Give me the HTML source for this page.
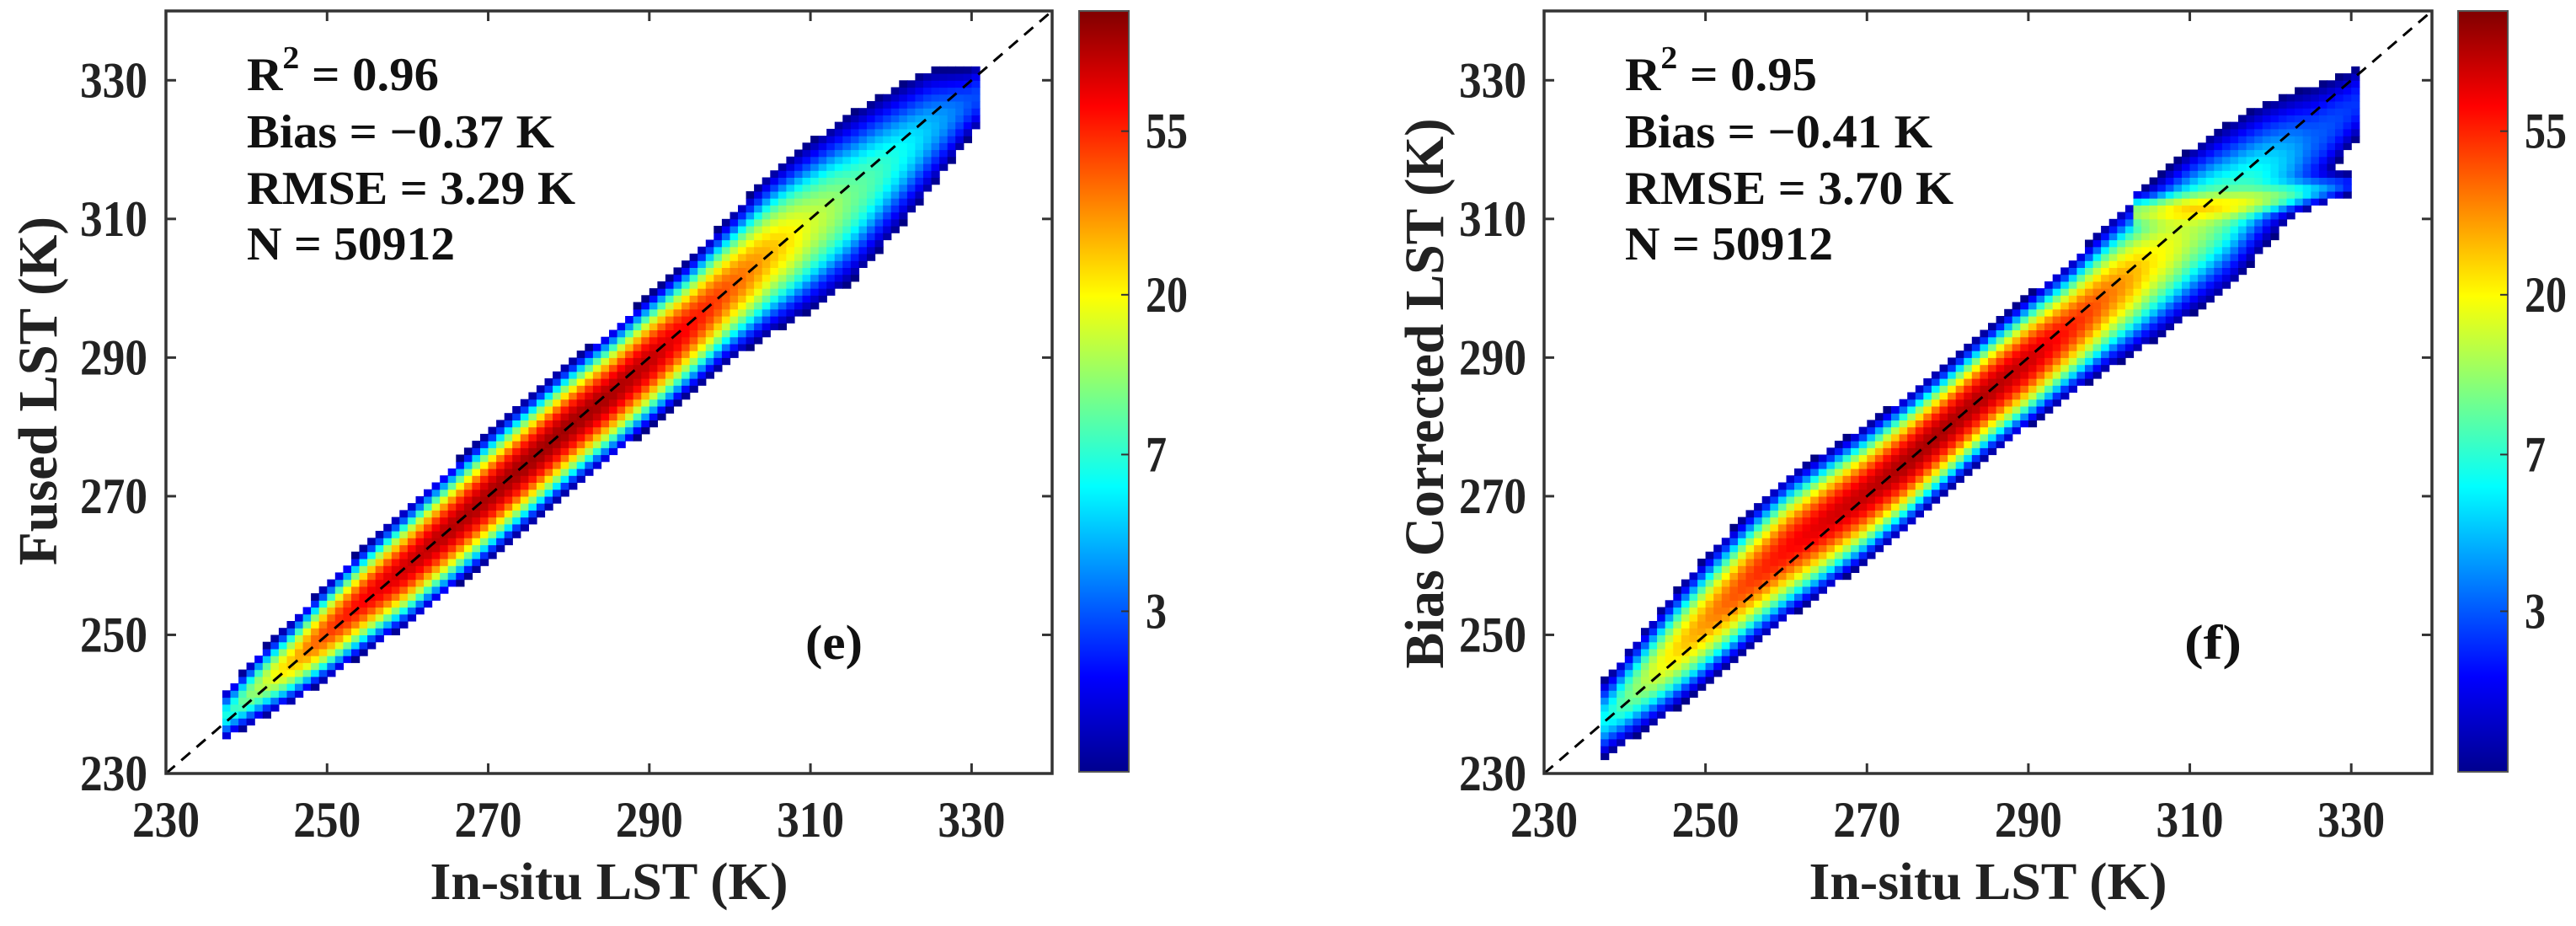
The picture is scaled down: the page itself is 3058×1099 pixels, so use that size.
<!DOCTYPE html>
<html><head><meta charset="utf-8">
<style>
html,body{margin:0;padding:0;background:#fff;}
svg{display:block;}
svg text{font-family:"Liberation Serif","DejaVu Serif",serif;font-weight:bold;}
</style></head>
<body>
<svg id="fig" width="3058" height="1099" viewBox="0 0 3058 1099">
<defs>
<linearGradient id="jet" x1="0" y1="1" x2="0" y2="0">
<stop offset="0" stop-color="#00008f"/>
<stop offset="0.125" stop-color="#0000ff"/>
<stop offset="0.375" stop-color="#00ffff"/>
<stop offset="0.625" stop-color="#ffff00"/>
<stop offset="0.875" stop-color="#ff0000"/>
<stop offset="1" stop-color="#800000"/>
</linearGradient>
</defs>
</svg>
<script>
// ---- data (counts per 1 K bin) ----
const binX = [238,242,246,250,255,260,265,270,275,280,285,290,295,300,305,310,315,320,325,330];
const offsetE = [1,1,0.5,0.5,0.5,0,0,0,0,0,-0.5,-0.5,-0.5,0,0,-1,-2,-2,-2,-3];
const spreadE = [1.5,1.8,2,2.2,2.4,2.6,2.7,2.8,2.8,2.8,2.8,2.9,3,3.3,3.8,4.2,4.5,4.2,3.8,2.5];
const peakE = [5,12,25,45,65,80,90,95,100,100,95,85,60,40,25,14,8,5,3,1.6];
const tailE = [1.5,2,2.3,2.5,2.5,2.5,2.5,2.5,2.5,2.5,2.5,2.5,2.5,2.5,2.5,2.3,2,1.8,1.5,1.2];
const offsetF = [0.5,1,1.5,2,2.5,2.5,1.5,0.5,0,0,0,-0.5,-1,-1,-1.5,-2,-3,-3,-4,-4];
const spreadF = [2.2,2.5,2.8,3,3.1,3.2,3.1,3,2.9,2.8,2.8,2.9,3,3.4,3.9,4.3,4.6,4.3,4,3];
const peakF = [4,10,20,30,45,60,75,85,95,95,90,80,55,35,20,12,7,4,2,1.5];
const tailF = [2,2.3,2.5,2.5,2.5,2.5,2.5,2.5,2.5,2.5,2.5,2.5,2.5,2.5,2.3,2,1.8,1.5,1.2,1];
const armX = [305,310,315,320,325,330];
const armY = [311,311.5,312,313,314,315];
const armPeak = [10,14,12,8,4,2];
const axisTicks = [230,250,270,290,310,330];
const cbTicks = [3,7,20,55];
const cbAnchorsCount = [1,3,7,20,55,120];
const cbAnchorsFrac = [0,0.211,0.417,0.627,0.842,1];
const statsE = ["= 0.96","Bias = \u22120.37 K","RMSE = 3.29 K","N = 50912"];
const statsF = ["= 0.95","Bias = \u22120.41 K","RMSE = 3.70 K","N = 50912"];

const NS = "http://www.w3.org/2000/svg";
const svg = document.getElementById('fig');
function mk(tag, attrs, parent){
  const e = document.createElementNS(NS, tag);
  for (const k in attrs) e.setAttribute(k, attrs[k]);
  (parent||svg).appendChild(e);
  return e;
}
function interp(xs, ys, x){
  if (x <= xs[0]) return ys[0];
  if (x >= xs[xs.length-1]) return ys[ys.length-1];
  for (let i=0;i<xs.length-1;i++){
    if (x>=xs[i] && x<=xs[i+1]){const t=(x-xs[i])/(xs[i+1]-xs[i]);return ys[i]+t*(ys[i+1]-ys[i]);}
  }
}
function countFrac(c){
  const l = cbAnchorsCount.map(Math.log);
  return Math.max(0, Math.min(1, interp(l, cbAnchorsFrac, Math.log(c))));
}
function jet(t){
  const cl=v=>Math.max(0,Math.min(1,v));
  const r=cl(1.5-Math.abs(4*t-3)), g=cl(1.5-Math.abs(4*t-2)), b=cl(1.5-Math.abs(4*t-1));
  return `rgb(${Math.round(r*255)},${Math.round(g*255)},${Math.round(b*255)})`;
}
const FONT = '"Liberation Serif","DejaVu Serif",serif';

function panel(cfg){
  const g = mk('g', {});
  
  
  const L=cfg.left, R=cfg.right, T=13, B=918;
  const sx = v => L + (v-230)/110*(R-L);
  const sy = v => B - (v-230)/110*(B-T);
  const txt = (attrs, parent) => { attrs['font-family']=FONT; attrs['font-weight']='bold'; return mk('text', attrs, parent); };
  // heatmap
  const hm = mk('g', {}, g);
  
  
  for (let x=237; x<331; x++){
    const xc = x+0.5;
    const off = interp(binX, cfg.off, xc), sd = interp(binX, cfg.sd, xc), pk = interp(binX, cfg.peak, xc), tl = interp(binX, cfg.tail, xc);
    for (let y=225; y<340; y++){
      const yc = y+0.5;
      const d = yc - (xc + off);
      let c = pk*Math.exp(-0.5*(d/sd)*(d/sd)) + tl*Math.exp(-0.5*(d/(sd*2))*(d/(sd*2)));
      if (cfg.arm && xc>=armX[0]-2 && xc<=armX[armX.length-1]){
        const ay = interp(armX, armY, xc), ap = interp(armX, armPeak, xc);
        const da = yc-ay; c += ap*Math.exp(-0.5*da*da/1.2);
      }
      if (c < 1) continue;
      const r = mk('rect', {x:sx(x).toFixed(1), y:sy(y+1).toFixed(1), width:(sx(x+1)-sx(x)+0.6).toFixed(1), height:(sy(y)-sy(y+1)+0.6).toFixed(1), fill:jet(countFrac(c))}, hm);
      
      
    }
  }
  const ln = mk('line', {x1:sx(230), y1:sy(230), x2:sx(340), y2:sy(340), stroke:'#000', 'stroke-width':3, 'stroke-dasharray':'14,10'}, g);
  
  
  const bx = mk('rect', {x:L, y:T, width:R-L, height:B-T, fill:'none', stroke:'#333', 'stroke-width':3.5}, g);
  
  
  axisTicks.forEach(v=>{
    mk('line',{x1:sx(v),y1:B,x2:sx(v),y2:B-12,stroke:'#333','stroke-width':3},g);
    mk('line',{x1:sx(v),y1:T,x2:sx(v),y2:T+12,stroke:'#333','stroke-width':3},g);
    mk('line',{x1:L,y1:sy(v),x2:L+12,y2:sy(v),stroke:'#333','stroke-width':3},g);
    mk('line',{x1:R,y1:sy(v),x2:R-12,y2:sy(v),stroke:'#333','stroke-width':3},g);
    const tx = txt({x:sx(v),y:993,'text-anchor':'middle','font-size':60,textLength:80,lengthAdjust:'spacingAndGlyphs',fill:'#222'},g);
    tx.textContent = v;
    
    
    const ty = txt({x:cfg.ytickRight-80,y:sy(v)+20,'font-size':60,textLength:80,lengthAdjust:'spacingAndGlyphs',fill:'#222'},g);
    ty.textContent = v;
    
    
  });
  const xt = txt({x:(L+R)/2,y:1067,'text-anchor':'middle','font-size':62,textLength:425,lengthAdjust:'spacingAndGlyphs',fill:'#222'},g);
  xt.textContent = 'In-situ LST (K)';
  
  
  const yt = txt({x:0,y:0,'text-anchor':'middle','font-size':66,textLength:cfg.ytitleLen,lengthAdjust:'spacingAndGlyphs',fill:'#222',transform:`translate(${cfg.ytitleX},${cfg.ytitleY}) rotate(-90)`},g);
  yt.textContent = cfg.ytitle;
  
  
  const sxp = L+96;
  const base = [107,175,242,308];
  const lens = [228,365,390,247];
  cfg.stats.forEach((s,i)=>{
    const t = txt({x:sxp,y:base[i],'font-size':56,textLength:lens[i],lengthAdjust:'spacingAndGlyphs',fill:'#111'},g);
    if (i===0){
      const a = mk('tspan',{},t); a.textContent='R';
      const b = mk('tspan',{dy:-26,'font-size':38},t); b.textContent='2';
      const c = mk('tspan',{dy:26},t); c.textContent=' '+s;
    } else t.textContent = s;
    
    
  });
  const pl = txt({x:cfg.labelX,y:782,'text-anchor':'middle','font-size':58,textLength:68,lengthAdjust:'spacingAndGlyphs',fill:'#111'},g);
  pl.textContent = cfg.label;
  
  
  const cb = mk('g',{},g);
  
  
  const CL=cfg.cbLeft, CR=cfg.cbLeft+59, CT=13, CB=916;
  mk('rect',{x:CL,y:CT,width:CR-CL,height:CB-CT,fill:'url(#jet)',stroke:'#555','stroke-width':2},cb);
  cbTicks.forEach(v=>{
    const yy = CB - countFrac(v)*(CB-CT);
    mk('line',{x1:CR-9,y1:yy,x2:CR,y2:yy,stroke:'#333','stroke-width':2},cb);
    const w = String(v).length*25;
    const t = txt({x:CR+20,y:yy+20,'font-size':60,textLength:w,lengthAdjust:'spacingAndGlyphs',fill:'#222'},cb);
    t.textContent = v;
    
    
  });
}

panel({name:'panel-e-fused', left:197, right:1249, off:offsetE, sd:spreadE, peak:peakE, tail:tailE, arm:false,
  ytickRight:175, ytitle:'Fused LST (K)', ytitleX:67, ytitleY:464, ytitleLen:414,
  stats:statsE, label:'(e)', labelX:990, cbLeft:1281});
panel({name:'panel-f-bias-corrected', left:1833, right:2887, off:offsetF, sd:spreadF, peak:peakF, tail:tailF, arm:true,
  ytickRight:1812, ytitle:'Bias Corrected LST (K)', ytitleX:1713, ytitleY:467, ytitleLen:653,
  stats:statsF, label:'(f)', labelX:2627, cbLeft:2918});
</script>
</body></html>
